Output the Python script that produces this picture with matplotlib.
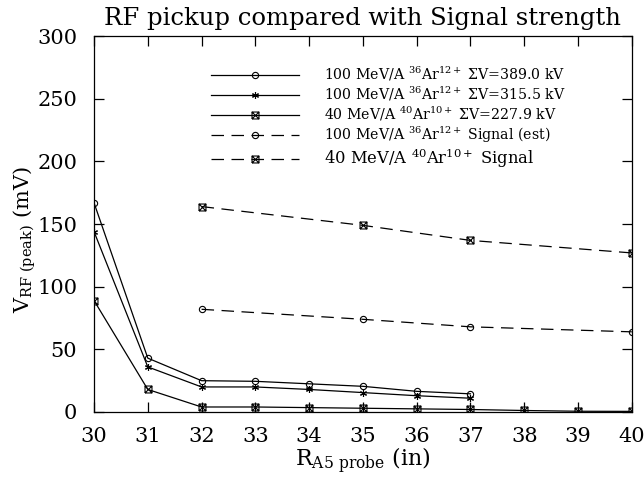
import matplotlib
matplotlib.use("Agg")
import matplotlib.pyplot as plt
from matplotlib.path import Path

plt.rcParams['font.family'] = ['DejaVu Serif']
plt.rcParams['mathtext.fontset'] = 'dejavuserif'

# Data
r_probe = [30, 31, 32, 33, 34, 35, 36, 37]
v_389 = [167, 43, 25, 24.5, 22.5, 20.5, 16.5, 14.5]
v_315 = [144, 36, 20, 20, 18, 15.5, 13, 11]
r_40 = [30, 31, 32, 33, 34, 35, 36, 37, 38, 39, 40]
v_227 = [89, 18, 4, 4, 3.5, 3, 2.5, 2, 1.2, 0.6, 0.5]
r_sig = [32, 35, 37, 40]
sig_100 = [82, 74, 68, 64]
sig_40 = [164, 149, 137, 127]

labels = [
    r'100 MeV/A $^{36}$Ar$^{12+}$ ΣV=389.0 kV',
    r'100 MeV/A $^{36}$Ar$^{12+}$ ΣV=315.5 kV',
    r'40 MeV/A $^{40}$Ar$^{10+}$ ΣV=227.9 kV',
    r'100 MeV/A $^{36}$Ar$^{12+}$ Signal (est)',
    r'40 MeV/A $^{40}$Ar$^{10+}$ Signal',
]

boxx = Path([(-1, -1), (1, -1), (1, 1), (-1, 1), (-1, -1), (-1, -1), (1, 1), (-1, 1), (1, -1)],
            [Path.MOVETO, Path.LINETO, Path.LINETO, Path.LINETO, Path.LINETO,
             Path.MOVETO, Path.LINETO, Path.MOVETO, Path.LINETO])

fig = plt.figure(figsize=(6.44, 4.83), dpi=100)
ax = fig.add_axes([0.146, 0.147, 0.835, 0.778])

kw = dict(color='black', lw=0.9, mfc='none', mec='black', mew=0.8)
h1, = ax.plot(r_probe, v_389, marker='o', ms=4.5, label=labels[0], **kw)
h2, = ax.plot(r_probe, v_315, marker=(6, 2, 0), ms=5, label=labels[1], **kw)
h3, = ax.plot(r_40, v_227, marker=boxx, ms=5, label=labels[2], **kw)
h4, = ax.plot(r_sig, sig_100, marker='o', ms=4.5, dashes=(10, 6), label=labels[3], **kw)
h5, = ax.plot(r_sig, sig_40, marker=boxx, ms=5, dashes=(10, 6), label=labels[4], **kw)

ax.set_xlim(30, 40)
ax.set_ylim(0, 300)
ax.set_xticks(range(30, 41))
ax.set_yticks(range(0, 301, 50))
ax.tick_params(direction='in', length=7, width=0.9, top=True, right=True,
               labelsize=15)
ax.tick_params(axis='x', pad=11)
ax.tick_params(axis='y', pad=12)
for s in ax.spines.values():
    s.set_linewidth(0.9)

ax.set_title('RF pickup compared with Signal strength', fontsize=17.5, pad=8)
ax.set_xlabel(r'R$_{\mathrm{A5\ probe}}$ (in)', fontsize=16, labelpad=0)
ax.set_ylabel(r'V$_{\mathrm{RF\ (peak)}}$ (mV)', fontsize=15)
ax.yaxis.set_label_coords(-0.105, 0.46)

leg = ax.legend(handles=[h1, h2, h3, h4, h5], loc='upper left',
                bbox_to_anchor=(0.2, 0.95), frameon=False, fontsize=10.2,
                handlelength=6.2, handletextpad=1.75, labelspacing=0.12,
                numpoints=1, markerfirst=True, borderaxespad=0.3)
leg.get_texts()[4].set_fontsize(11.8)

fig.savefig('out.png', dpi=100)
